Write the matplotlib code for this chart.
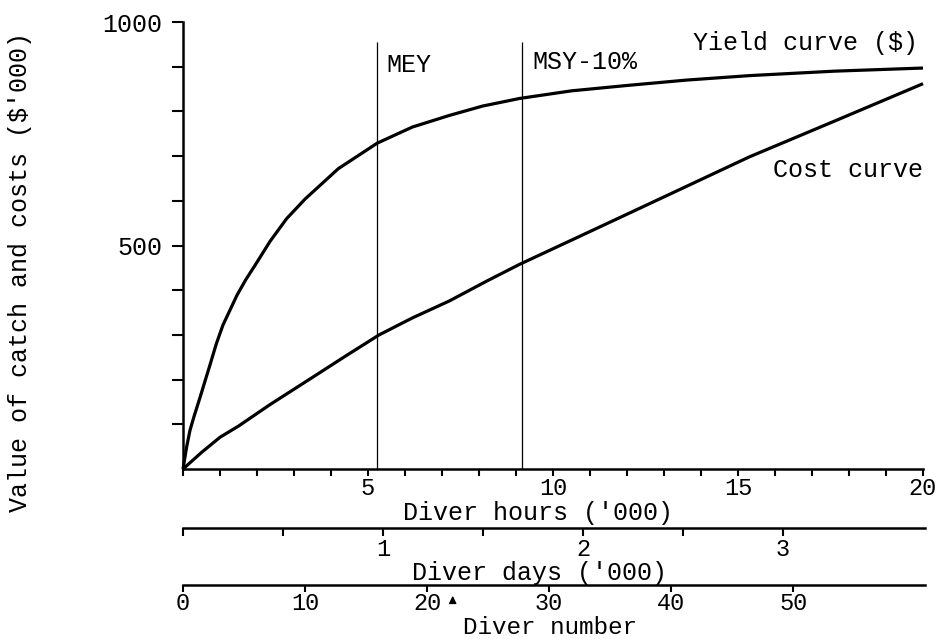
import matplotlib
matplotlib.use("Agg")
import matplotlib.pyplot as plt
from matplotlib import transforms

plt.rcParams['font.family'] = ['Liberation Mono', 'DejaVu Sans Mono']

# ---- data ----
yield_hours = [0, 0.1, 0.19, 0.3, 0.46, 0.6, 0.73, 0.9, 1.08, 1.25, 1.46, 1.7, 1.95, 2.35,
               2.8, 3.3, 4.2, 5.25, 6.2, 7.2, 8.1, 9.1, 10.5, 12, 13.6, 15.3, 17.6, 20]
yield_value = [0, 50, 87, 118, 160, 198, 233, 280, 322, 352, 389, 424, 456, 509,
               560, 604, 672, 729, 765, 791, 812, 829, 846, 858, 870, 880, 890, 897]
cost_hours = [0, 0.5, 1.0, 1.5, 2.35, 3.5, 4.4, 5.3, 6.2, 7.2, 8.2, 9.1, 10.5, 12, 13.6, 15.3, 17.6, 20]
cost_value = [0, 37, 71, 96, 144, 205, 253, 300, 338, 376, 420, 458, 512, 570, 632, 698, 778, 862]
mey_hours = 5.25
msy_hours = 9.15
ref_line_top = 955
hours_ticks = list(range(0, 21))
hours_labels = ['5', '10', '15', '20']
y_ticks = list(range(100, 1001, 100))
y_labels = ['500', '1000']
days_ticks = [0, 0.5, 1, 1.5, 2, 2.5, 3]
days_labels = ['1', '2', '3']
days_max = 3.71
number_ticks = [0, 10, 20, 30, 40, 50]
number_max = 60.8
number_marker = 22.1

W, H = 944, 639
fig = plt.figure(figsize=(W / 100, H / 100), dpi=100)

def fx(px):
    return px / W

def fy(py):
    return (H - py) / H

FS = 18
TFS = 17
left_px, right_px = 183, 923
top_px, base_px = 22, 469

ax = fig.add_axes([fx(left_px), fy(base_px), fx(right_px) - fx(left_px), fy(top_px) - fy(base_px)])
ax.set_xlim(0, 20)
ax.set_ylim(0, 1000)
for s in ['top', 'right']:
    ax.spines[s].set_visible(False)
for s in ['left', 'bottom']:
    ax.spines[s].set_linewidth(1.8)

ax.plot(yield_hours, yield_value, color='black', lw=2.3, clip_on=False,
        solid_capstyle='butt', solid_joinstyle='round')
ax.plot(cost_hours, cost_value, color='black', lw=2.3, clip_on=False,
        solid_capstyle='butt', solid_joinstyle='round')
ax.vlines([mey_hours, msy_hours], 0, ref_line_top, color='black', lw=0.9)

ax.set_xticks(hours_ticks)
ax.set_xticklabels([str(t) if str(t) in hours_labels else '' for t in hours_ticks])
ax.set_yticks(y_ticks)
ax.set_yticklabels([str(t) if str(t) in y_labels else '' for t in y_ticks])
ax.tick_params(axis='x', length=5, width=1.5, pad=1, labelsize=TFS, direction='out')
ax.tick_params(axis='y', length=8, width=1.5, pad=7, labelsize=FS, direction='out')

ax.text(5.51, 904, 'MEY', fontsize=FS, ha='left', va='center')
ax.text(9.43, 910, 'MSY-10%', fontsize=FS, ha='left', va='center')
ax.text(13.78, 953, 'Yield curve ($)', fontsize=FS, ha='left', va='center')
ax.text(15.95, 669, 'Cost curve', fontsize=FS, ha='left', va='center')

fig.text(fx(20), fy(272), "Value of catch and costs ($'000)", rotation=90,
         ha='center', va='center', fontsize=FS)
fig.text(fx(538), fy(513), "Diver hours ('000)", ha='center', va='center', fontsize=FS)

# ---- diver days axis ----
ax_d_px = 528
right_aux = 925
axd = fig.add_axes([fx(left_px), fy(ax_d_px), fx(right_aux) - fx(left_px), 0.001])
axd.set_xlim(0, days_max)
axd.set_yticks([])
for s in ['top', 'right', 'left']:
    axd.spines[s].set_visible(False)
axd.spines['bottom'].set_linewidth(1.8)
axd.patch.set_visible(False)
axd.set_xticks(days_ticks)
axd.set_xticklabels([('%g' % t) if ('%g' % t) in days_labels else '' for t in days_ticks])
axd.tick_params(axis='x', length=6, width=1.5, pad=1, labelsize=TFS)
fig.text(fx(539), fy(573), "Diver days ('000)", ha='center', va='center', fontsize=FS)

# ---- diver number axis ----
ax_n_px = 585
axn = fig.add_axes([fx(left_px), fy(ax_n_px), fx(right_aux) - fx(left_px), 0.001])
axn.set_xlim(0, number_max)
axn.set_yticks([])
for s in ['top', 'right', 'left']:
    axn.spines[s].set_visible(False)
axn.spines['bottom'].set_linewidth(1.8)
axn.patch.set_visible(False)
axn.set_xticks(number_ticks)
axn.set_xticklabels([str(t) for t in number_ticks])
axn.tick_params(axis='x', length=5, width=1.5, pad=0, labelsize=TFS)
fig.text(fx(550), fy(628), "Diver number", ha='center', va='center', fontsize=17.5)

trans = transforms.blended_transform_factory(axn.transData, fig.transFigure)
axn.annotate('', xy=(number_marker, fy(593)), xycoords=trans,
             xytext=(number_marker, fy(606)), textcoords=trans,
             arrowprops=dict(arrowstyle='-|>', color='black', lw=1.0, mutation_scale=11),
             annotation_clip=False)

fig.savefig('out.png', dpi=100)
